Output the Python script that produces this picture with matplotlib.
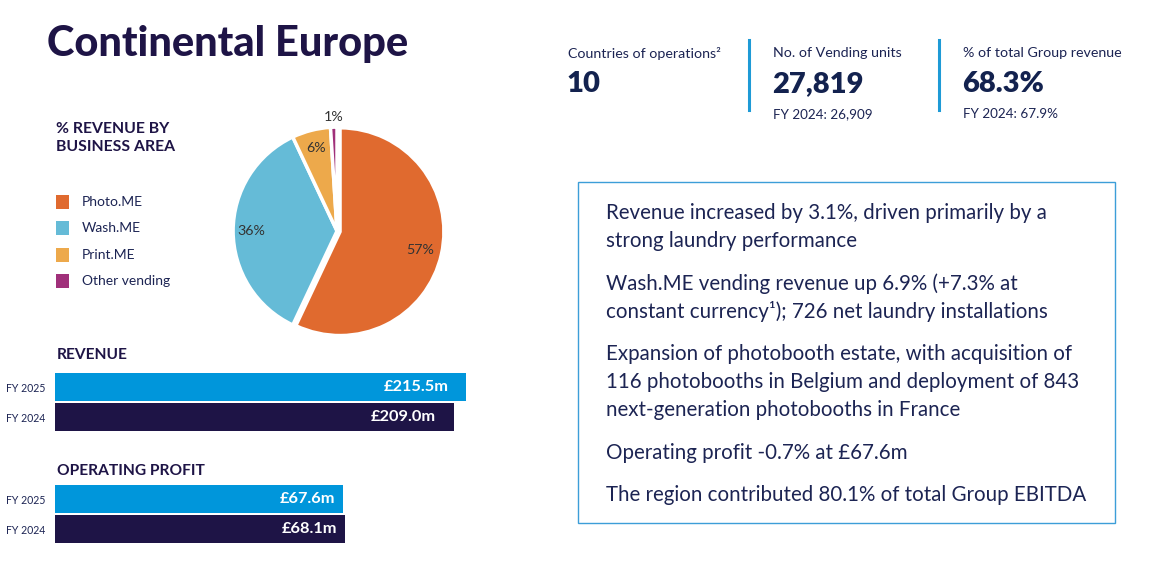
import numpy as np
import matplotlib.pyplot as plt
from matplotlib.patches import Rectangle

plt.rcParams['font.family'] = ['Lato', 'DejaVu Sans']

# data
areas = ['Photo.ME', 'Wash.ME', 'Print.ME', 'Other vending']
area_share = [57, 36, 6, 1]
area_colors = ['#E06A2F', '#65BBD7', '#EDA94B', '#A0307A']

years = ['FY 2025', 'FY 2024']
revenue = [215.5, 209.0]
op_profit = [67.6, 68.1]
year_colors = ['#0096DB', '#1E1446']

kpi_titles = ['Countries of operations\u00b2', 'No. of Vending units', '% of total Group revenue']
kpi_values = ['10', '27,819', '68.3%']
kpi_prior = ['', 'FY 2024: 26,909', 'FY 2024: 67.9%']

bullets = [
    ['Revenue increased by 3.1%, driven primarily by a', 'strong laundry performance'],
    ['Wash.ME vending revenue up 6.9% (+7.3% at', 'constant currency\u00b9); 726 net laundry installations'],
    ['Expansion of photobooth estate, with acquisition of',
     '116 photobooths in Belgium and deployment of 843',
     'next-generation photobooths in France'],
    ['Operating profit -0.7% at \u00a367.6m'],
    ['The region contributed 80.1% of total Group EBITDA'],
]

NAVY = '#1E1446'
TEXT = '#1C2453'
W, H = 1150, 570

fig = plt.figure(figsize=(11.5, 5.7), dpi=100)
fig.patch.set_facecolor('white')


def P(x, y):
    return x / W, 1 - y / H


def box(x0, y0, x1, y1):
    return [x0 / W, 1 - y1 / H, (x1 - x0) / W, (y1 - y0) / H]


# title
fig.text(*P(47, 44), 'Continental Europe', fontsize=30, fontweight='black', color=NAVY, va='center')

# pie section
fig.text(*P(56, 138), '% REVENUE BY\nBUSINESS AREA', fontsize=11.3, fontweight='bold',
         color=NAVY, va='center', linespacing=1.45)
for i, (name, c) in enumerate(zip(areas, area_colors)):
    y = 202 + i * 26.3
    fig.patches.append(Rectangle(P(56, y + 7), 13 / W, 14 / H, transform=fig.transFigure,
                                 facecolor=c, edgecolor='none'))
    fig.text(*P(82, y), name, fontsize=10, color=TEXT, va='center')

ax = fig.add_axes(box(229, 124, 445, 338))
wedges, _ = ax.pie(area_share, colors=area_colors, startangle=90, counterclock=False,
                   explode=[0.03, 0, 0, 0], wedgeprops=dict(edgecolor='white', linewidth=2.5))
for w, v in zip(wedges, area_share):
    ang = np.deg2rad((w.theta1 + w.theta2) / 2)
    r = 0.82 if v > 2 else 1.1
    ax.text(r * np.cos(ang), r * np.sin(ang), f'{v}%', ha='center', va='center',
            fontsize=10.3, color='#333333')
ax.set_xlim(-1.03, 1.03)
ax.set_ylim(-1.03, 1.03)
ax.set_aspect('equal')
ax.axis('off')


# bar sections
def bar_panel(head_y, bar_top, title, values, xmax, pad_px):
    fig.text(*P(57, head_y), title, fontsize=11.2, fontweight='bold', color=NAVY, va='center')
    bax = fig.add_axes(box(55, bar_top, 480, bar_top + 60))
    y = np.arange(len(values))
    bax.barh(y, values, height=0.94, color=year_colors)
    bax.set_xlim(0, xmax)
    bax.set_ylim(len(values) - 0.5, -0.5)
    for yi, v in zip(y, values):
        bax.text(v - xmax * pad_px / 425, yi, f'\u00a3{v:.1f}m', ha='right', va='center',
                 fontsize=11.8, fontweight='bold', color='white')
    bax.set_yticks(y)
    bax.set_yticklabels(years, fontsize=7.6, color=TEXT)
    bax.tick_params(axis='y', length=0, pad=7)
    bax.set_xticks([])
    for s in bax.spines.values():
        s.set_visible(False)


bar_panel(355, 372, 'REVENUE', revenue, 222.7, 18)
bar_panel(471, 484, 'OPERATING PROFIT', op_profit, 99.8, 8)

# KPI header
kpi_x = [568, 773, 963]
for i, (x, t, v, p) in enumerate(zip(kpi_x, kpi_titles, kpi_values, kpi_prior)):
    fig.text(*P(x, 53), t, fontsize=10.3, color=TEXT, va='center')
    fig.text(*P(x - 1, 84), v, fontsize=21, fontweight='heavy', color='#13224F', va='center')
    if p:
        fig.text(*P(x, 114), p, fontsize=9.7, color=TEXT, va='center')
    if i > 0:
        fig.add_artist(plt.Line2D([(x - 24) / W] * 2, [1 - 40 / H, 1 - 110 / H],
                                  color='#1E9AD6', linewidth=2.2))

# commentary box
fig.patches.append(Rectangle(P(578, 523), 537 / W, 341 / H, transform=fig.transFigure,
                             facecolor='none', edgecolor='#3C9ED8', linewidth=1))
y = 213
for para in bullets:
    for line in para:
        fig.text(*P(606, y), line, fontsize=14.8, color=TEXT, va='center')
        y += 27.8
    y += 15

fig.savefig('out.png', dpi=100)
